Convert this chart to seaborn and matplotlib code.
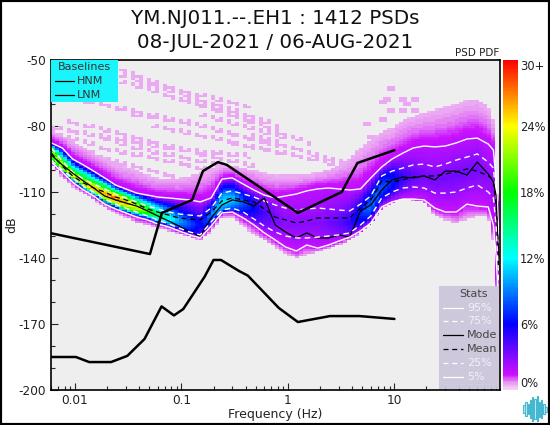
import numpy as np
import seaborn as sns
import matplotlib
matplotlib.use("Agg")
import matplotlib.pyplot as plt
from matplotlib.colors import LinearSegmentedColormap
from matplotlib.patches import Rectangle
from matplotlib.lines import Line2D
from matplotlib.ticker import LogLocator

# values
freq = [0.006, 0.0076, 0.0095, 0.012, 0.015, 0.019, 0.024, 0.03, 0.038, 0.048, 0.06, 0.076, 0.095, 0.12, 0.15,
        0.19, 0.24, 0.3, 0.38, 0.48, 0.6, 0.76, 0.95, 1.2, 1.5, 1.9, 2.4, 3, 3.8, 4.8, 6, 7.6, 9.5, 12, 15,
        19, 24, 30, 38, 48, 60, 76, 85, 90, 96]
p95 = [-87.7, -90, -95, -97.7, -100.5, -103.6, -106.8, -108.6, -110.5, -111.4, -112.3, -112.7, -113.2, -113.6, -114.5,
       -112.7, -104.1, -103.6, -106.4, -109.1, -111.4, -112.7, -111.8, -110.9, -109.5, -108.6, -108.2, -108.6, -109.1, -108.6, -103.6, -98.6, -95, -92.3, -90,
       -89.1, -89.5, -89.1, -87.7, -85.9, -85.5, -88.2, -90.9, -104.5, -131.8]
p75 = [-90, -95.9, -100.9, -104.1, -106.4, -108.6, -110.9, -112.7, -114.5, -116.4, -117.7, -119.1, -120, -120.5, -120.9,
       -117.3, -110.5, -109.5, -110.9, -112.3, -114.1, -115.9, -117.3, -118.2, -117.7, -117.3, -117.7, -118.2, -118.6, -115.5, -111.8, -102.7, -100.5, -99.1, -97.7,
       -97.3, -98.6, -97.3, -95.5, -94.1, -92.7, -96.4, -99.1, -111.4, -136.4]
mean = [-92.3, -98.2, -102.7, -105.9, -108.2, -110, -112.3, -113.6, -115.5, -117.7, -119.1, -120.5, -121.8, -122.3, -122.7,
        -119.1, -114.1, -112.7, -113.6, -114.5, -117.7, -121.4, -122.7, -124.1, -123.2, -121.8, -121.8, -121.8, -121.8, -117.3, -113.6, -105, -105.5, -104.5, -103.2,
        -102.7, -102.7, -101.8, -100.9, -99.5, -100.5, -102.7, -104.5, -115.9, -140.9]
mode = [-93.2, -97.7, -101.4, -105, -108.2, -111.8, -113.6, -115, -116.4, -118.6, -120.9, -123.2, -125.5, -128.2, -130,
        -121.8, -115.9, -113.6, -114.5, -116.4, -112.7, -125, -128.2, -130.9, -128.6, -130.9, -130.9, -129.5, -130.5, -118.6, -115.9, -109.1, -104.5, -103.2, -103.6,
        -102.7, -104.5, -100.5, -100.5, -102.3, -96.4, -101.8, -105.5, -111.4, -145.5]
p25 = [-95.5, -100, -103.6, -107.3, -110, -113.2, -115.5, -117.3, -119.1, -120.9, -122.7, -124.5, -126.4, -128.2, -129.5,
       -123.6, -118.2, -117.3, -119.1, -122.3, -125.5, -128.2, -130, -130.9, -130.9, -130.5, -130, -129.5, -128.6, -125, -120.9, -112.7, -110, -108.2, -107.7,
       -108.2, -110.5, -110.5, -110, -108.2, -106.8, -110, -112.7, -125, -152.3]
p5 = [-96.4, -100.9, -105.5, -109.1, -111.8, -115.5, -117.7, -119.5, -121.4, -122.7, -124.5, -125.9, -127.7, -129.5, -130.9,
      -125.5, -119.5, -119.1, -121.8, -125, -128.6, -131.8, -135, -136.8, -134.1, -135.5, -134.1, -132.3, -130.5, -127.7, -124.1, -116.8, -114.5, -113.2, -113.2,
      -113.6, -117.3, -119.1, -119.1, -115.5, -116.4, -116.8, -125, -138.6, -164]
# outer edges of the coloured cloud and the densest percentage in each column
cloud_top = [-81.8, -84.1, -86.8, -89.5, -91.8, -94.5, -96.8, -98.6, -100, -102.3, -103.6, -103.6, -103.6, -102.7, -100.9,
             -99.1, -97.7, -97.7, -99.1, -100, -101.4, -102.3, -102.3, -102.3, -102.3, -100.9, -100, -97.7, -94.5, -90, -86.4, -82.7, -80.9, -77.3, -75.5,
             -74.1, -72.7, -71.4, -70, -68.2, -67.7, -70.9, -77.3, -100, -127.3]
cloud_low = [-97.7, -103.6, -107.7, -110.9, -113.6, -117.3, -119.5, -121.8, -124.1, -125, -126.4, -127.7, -129.1, -130.5, -132.3,
             -127.7, -121.8, -121.4, -125.5, -129.5, -132.3, -135, -138.2, -140, -138.6, -137.3, -135.9, -134.1, -132.3, -128.6, -124.5, -117.7, -115, -113.2, -113.6,
             -114.5, -120.9, -122.7, -124.5, -122.3, -121.4, -120.9, -131.8, -145.5, -170.5]
peak = [22, 24, 25, 26, 27, 27, 28, 27, 24, 20, 16, 13, 10, 8, 6,
        9, 12, 11, 8, 6, 4.5, 3.5, 3, 3, 3, 3, 3.5, 4, 5, 7, 9, 8, 7, 5, 4,
        3.5, 3.5, 3.5, 3.5, 3.5, 3.5, 3, 3, 2.5, 2]

# the sparse diagonal streaks above the main cloud (freq, dB)
streaks = [
    ([0.0253, 0.083, 0.44], [-54.5, -63.6, -71.8]),
    ([0.0253, 0.174, 0.84], [-56.8, -69.5, -80.5]),
    ([0.0265, 0.14, 0.84], [-60, -70.5, -82.7]),
    ([0.0096, 0.0405, 0.174, 0.84], [-68.2, -74.1, -80.9, -89.5]),
    ([0.006, 0.02, 0.083, 0.44], [-81, -85.5, -90.9, -94.1]),
    ([0.006, 0.02, 0.083, 0.354], [-83.2, -90.9, -96.8, -103.2]),
    ([0.0068, 0.02, 0.083], [-86.4, -95.5, -103.2]),
    ([0.0072, 0.02, 0.083], [-89.5, -100, -109.1]),
    ([0.011, 0.0405, 0.285], [-83.2, -90.9, -99.1]),
    ([0.15, 1.05], [-75, -86.4]),
    ([0.44, 2.5, 9], [-84.1, -95.5, -102.3]),
    ([0.11, 0.55, 1.6], [-68.2, -79.5, -88.6]),
    ([0.008, 0.03, 0.12, 0.5], [-78, -84.5, -92, -99]),
    ([0.05, 0.2, 0.7], [-80, -86, -92]),
    ([0.03, 0.12, 0.5], [-75, -79, -87]),
    ([0.3, 1, 3], [-88, -93, -98]),
]
speck_f = [7.3, 9.1, 11.3, 14.6, 14.6, 9.1, 7.3, 11.3, 5.5, 5.9, 13, 8.2]
speck_db = [-69.1, -63.6, -68.2, -73.6, -68.2, -73.6, -77.3, -73.6, -79.5, -85, -70, -68]

# baseline noise models
nhnm_f = [0.00589, 0.0506, 0.0655, 0.126, 0.159, 0.22, 0.267, 1.24, 3.2, 4.5, 10]
nhnm_db = [-128.7, -138.2, -119.5, -113.6, -100.5, -96.4, -97.7, -119.5, -110, -96.8, -91]
nlnm_f = [0.00589, 0.0102, 0.0136, 0.0218, 0.031, 0.045, 0.065, 0.085, 0.104, 0.165, 0.2, 0.235, 0.347, 0.42, 0.82, 1.24, 2.48, 4.7, 10]
nlnm_db = [-185, -185, -187.3, -187.3, -184.5, -176.8, -162, -166.1, -163.2, -148.5, -140.9, -140.9, -145.9, -148, -162.7, -169.1, -166.4, -166.4, -167.7]

stat_labels = ["95%", "75%", "Mode", "Mean", "25%", "5%"]
cbar_ticks = [0, 6, 12, 18, 24, 30]
cbar_labels = ["0%", "6%", "12%", "18%", "24%", "30+"]
logo_heights = [8, 14, 10, 18, 25, 20, 26, 15, 18, 10, 5]

sns.set_theme(style="ticks")
plt.rcParams["font.family"] = ["DejaVu Sans"]
plt.rcParams["axes.unicode_minus"] = False
W, H = 550, 425


def fx(x):
    return x / W


def fy(y):
    return 1 - y / H


fig = plt.figure(figsize=(5.5, 4.25), dpi=100, facecolor="white")
ax = fig.add_axes([fx(50.5), fy(390), 449 / W, 330 / H], facecolor="#eeeeee")

# build the density grid, 1/8 octave by 1 dB cells
log_f = np.log10(freq)
col_edges = np.arange(np.log10(0.00589), np.log10(97) + 0.03, np.log10(2) / 8)
col_mid = (col_edges[:-1] + col_edges[1:]) / 2
db_edges = np.arange(-200, -49, 1.0)
db_mid = (db_edges[:-1] + db_edges[1:]) / 2
grid = np.zeros((len(db_mid), len(col_mid)))
for j, lf in enumerate(col_mid):
    top, a95, a75 = [np.interp(lf, log_f, s) for s in (cloud_top, p95, p75)]
    a25, a5, low = [np.interp(lf, log_f, s) for s in (p25, p5, cloud_low)]
    pk = np.interp(lf, log_f, peak)
    centre = (a75 + a25) / 2
    knots = [low - 0.01, a5, a25, centre, a75, a95, (a95 + top) / 2, top + 0.01]
    dens = [0.5, 1.5, 0.75 * pk, pk, 0.75 * pk, 1.8, 0.9, 0.45]
    inside = (db_mid >= low) & (db_mid <= top)
    grid[inside, j] = np.interp(db_mid[inside], knots, dens)

for sf, sd in streaks:
    for j, lf in enumerate(col_mid):
        if lf < np.log10(sf[0]) or lf > np.log10(sf[-1]) or j % 4 == 3:
            continue
        d = np.interp(lf, np.log10(sf), sd)
        i = np.searchsorted(db_edges, d) - 1
        grid[i, j] = max(grid[i, j], 0.5)
        if j % 2 == 0:
            grid[i + 1, j] = max(grid[i + 1, j], 0.5)
for sf, sd in zip(speck_f, speck_db):
    j = np.searchsorted(col_edges, np.log10(sf)) - 1
    i = np.searchsorted(db_edges, sd) - 1
    grid[i:i + 2, j:j + 2] = np.maximum(grid[i:i + 2, j:j + 2], 0.5)

cmap = LinearSegmentedColormap.from_list("pdf", [
    (0, "#f3d6f3"), (0.02, "#e89cf2"), (0.045, "#cc11ff"), (0.2, "#0000ff"),
    (0.4, "#00ffff"), (0.6, "#00ff00"), (0.8, "#ffff00"), (1, "#ff0000")])
mesh = ax.pcolormesh(10 ** col_edges, db_edges, np.ma.masked_less(grid, 0.1), cmap=cmap, vmin=0, vmax=30)

ax.set_xscale("log")
sns.lineplot(x=freq, y=p95, color="white", lw=1, ax=ax)
sns.lineplot(x=freq, y=p75, color="white", lw=1, ls=(0, (4, 3)), ax=ax)
sns.lineplot(x=freq, y=mode, color="black", lw=0.9, ax=ax)
sns.lineplot(x=freq, y=mean, color="black", lw=0.9, ls=(0, (4, 3)), ax=ax)
sns.lineplot(x=freq, y=p25, color="white", lw=1, ls=(0, (4, 3)), ax=ax)
sns.lineplot(x=freq, y=p5, color="white", lw=1, ax=ax)
sns.lineplot(x=nhnm_f, y=nhnm_db, color="black", lw=1.8, ax=ax)
sns.lineplot(x=nlnm_f, y=nlnm_db, color="black", lw=1.8, ax=ax)

ax.set_xlim(0.00589, 97)
ax.set_ylim(-200, -50)
ax.set_yticks(np.arange(-200, -49, 30))
ax.set_yticks(np.arange(-200, -49, 10), minor=True)
ax.set_xticks([0.01, 0.1, 1, 10])
ax.set_xticklabels(["0.01", "0.1", "1", "10"])
ax.xaxis.set_minor_locator(LogLocator(base=10, subs=range(2, 10), numticks=12))
ax.tick_params(which="major", direction="in", length=5, width=0.8, labelsize=8.7, labelcolor="#222222", pad=3)
ax.tick_params(which="minor", direction="in", length=3, width=0.8)
ax.tick_params(axis="x", which="minor", labelbottom=False)
for s in ax.spines.values():
    s.set_color("black")
    s.set_linewidth(1.2)
ax.set_xlabel("")
ax.set_ylabel("")

fig.text(fx(275), fy(18), "YM.NJ011.--.EH1 : 1412 PSDs", ha="center", va="center", fontsize=14.3, color="#111111")
fig.text(fx(275), fy(42), "08-JUL-2021 / 06-AUG-2021", ha="center", va="center", fontsize=14.3, color="#111111")
fig.text(fx(275), fy(414.5), "Frequency (Hz)", ha="center", va="center", fontsize=9, color="#222222")
fig.text(fx(12), fy(225), "dB", ha="center", va="center", rotation=90, fontsize=9, color="#222222")
fig.text(fx(477), fy(53), "PSD PDF", ha="center", va="center", fontsize=7.5, color="#222222")

# colour bar
cax = fig.add_axes([fx(503), fy(390), 15 / W, 330 / H])
cb = fig.colorbar(mesh, cax=cax)
cb.outline.set_visible(False)
cb.set_ticks(cbar_ticks)
cb.set_ticklabels(cbar_labels)
cax.tick_params(length=0, labelsize=8.3, labelcolor="#222222", pad=1.5)
labels = cax.get_yticklabels()
labels[0].set_va("bottom")
labels[-1].set_va("top")

# baselines box
fig.add_artist(Rectangle((fx(51), fy(102)), 67 / W, 42 / H, transform=fig.transFigure, fc="#19f5fb", ec="none", zorder=5))
fig.text(fx(84), fy(67), "Baselines", ha="center", va="center", fontsize=8, color="#333333", zorder=6)
for y, name in zip([81, 95], ["HNM", "LNM"]):
    fig.add_artist(Line2D([fx(55), fx(74)], [fy(y), fy(y)], color="black", lw=0.9, zorder=6))
    fig.text(fx(77), fy(y), name, ha="left", va="center", fontsize=8, color="#333333", zorder=6)

# stats box
fig.add_artist(Rectangle((fx(439), fy(389)), 59.5 / W, 103 / H, transform=fig.transFigure, fc="#cdc6dc", ec="none", alpha=0.95, zorder=5))
fig.text(fx(473), fy(294), "Stats", ha="center", va="center", fontsize=8, color="#444444", zorder=6)
stat_y = [308, 321, 335, 349, 363, 377]
stat_ls = ["-", (0, (4, 3)), "-", (0, (4, 3)), (0, (4, 3)), "-"]
stat_col = ["white", "white", "black", "black", "white", "white"]
txt_col = ["#f2f0f6", "#f2f0f6", "#444444", "#444444", "#f2f0f6", "#f2f0f6"]
for y, name, ls, c, tc in zip(stat_y, stat_labels, stat_ls, stat_col, txt_col):
    fig.add_artist(Line2D([fx(443), fx(463)], [fy(y), fy(y)], color=c, lw=0.9, ls=ls, zorder=6))
    fig.text(fx(467), fy(y), name, ha="left", va="center", fontsize=8, color=tc, zorder=6)

# small logo bottom right
lax = fig.add_axes([fx(522), fy(422), 26 / W, 26 / H])
lax.axis("off")
lx = np.arange(len(logo_heights))
lh = np.array(logo_heights)
lax.bar(lx, lh, bottom=-lh / 2, width=0.6, color="#c8eef5", edgecolor="#45b8d0", linewidth=0.8)
lax.set_ylim(-13, 13)

fig.add_artist(Rectangle((0, 0), 1, 1, transform=fig.transFigure, fc="none", ec="black", lw=3, zorder=10))
fig.savefig("out.png", dpi=100)
